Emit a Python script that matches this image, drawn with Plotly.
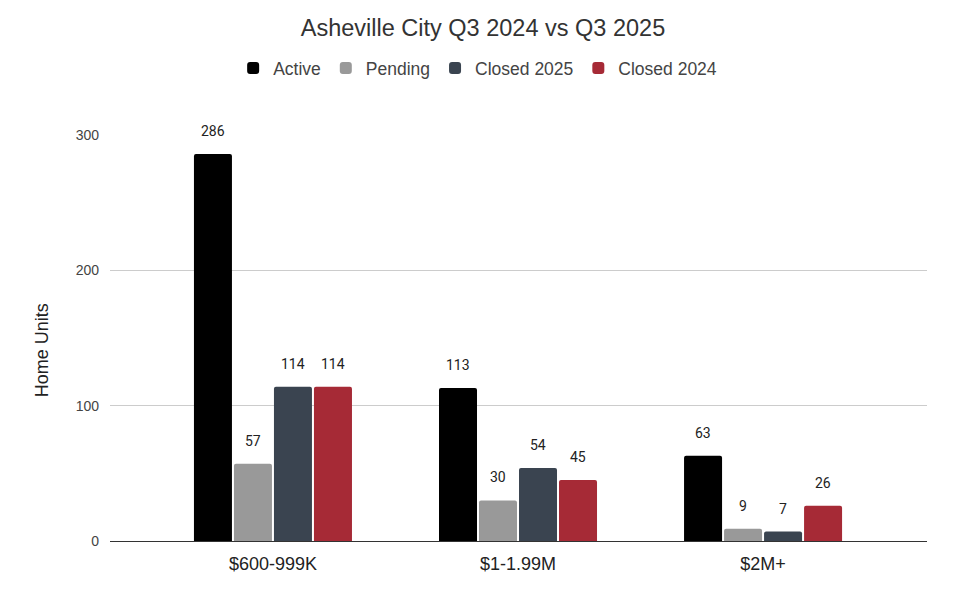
import plotly.graph_objects as go

categories = ["$600-999K", "$1-1.99M", "$2M+"]
series_names = ["Active", "Pending", "Closed 2025", "Closed 2024"]
active = [286, 113, 63]
pending = [57, 30, 9]
closed_2025 = [114, 54, 7]
closed_2024 = [114, 45, 26]
y_ticks = [0, 100, 200, 300]

colors = ["#000000", "#999999", "#3a4450", "#a62a36"]

FONT = "Liberation Sans, Arial, sans-serif"
BARGAP = 0.347

series = [active, pending, closed_2025, closed_2024]
fig = go.Figure()
for name, vals, col in zip(series_names, series, colors):
    fig.add_trace(go.Bar(
        name=name,
        x=categories,
        y=vals,
        marker=dict(color=col, line=dict(width=0), cornerradius=2),
        hoverinfo="x+y+name",
    ))

# value labels above each bar, positioned at the grouped bar centres
n = len(series)
slot = (1 - BARGAP) / n
annotations = []
for i, vals in enumerate(series):
    off = -(1 - BARGAP) / 2 + (i + 0.5) * slot
    for ci, v in enumerate(vals):
        annotations.append(dict(
            x=ci + off, y=v, xref="x", yref="y",
            text=str(v), showarrow=False,
            yanchor="bottom", yshift=13,
            font=dict(family="Roboto, Arial, sans-serif", size=14, color="#222222"),
        ))

annotations.append(dict(
    text="Home Units", xref="paper", yref="paper",
    x=-0.083, y=0.47, xanchor="center", yanchor="middle",
    textangle=-90, showarrow=False,
    font=dict(family=FONT, size=18, color="#222222"),
))

fig.update_layout(
    width=950, height=594,
    barmode="group",
    bargap=BARGAP,
    bargroupgap=0.05,
    paper_bgcolor="white",
    plot_bgcolor="white",
    margin=dict(l=102, r=31, t=127, b=61),
    title=dict(text="Asheville City Q3 2024 vs Q3 2025", x=0.5, xanchor="center",
               y=0.9675, yanchor="middle",
               font=dict(family=FONT, size=23.5, color="#333333")),
    legend=dict(orientation="h", x=0.45, xanchor="center", y=1.165, yanchor="middle",
                font=dict(family=FONT, size=17.5, color="#444444"),
                itemwidth=30, traceorder="normal"),
    font=dict(family=FONT),
    annotations=annotations,
    xaxis=dict(
        range=[-0.665, 2.669],
        showgrid=False,
        showline=True, linecolor="#333333", linewidth=1,
        ticks="",
        ticklabelstandoff=6,
        tickfont=dict(family=FONT, size=18, color="#222222"),
        fixedrange=True,
    ),
    yaxis=dict(
        range=[0, 300],
        tickvals=y_ticks,
        showgrid=True, gridcolor="#cccccc", gridwidth=1,
        zeroline=False,
        ticks="",
        ticklabelstandoff=10,
        tickfont=dict(family=FONT, size=14, color="#444444"),
    ),
    showlegend=True,
)

fig.write_html("out.html")
